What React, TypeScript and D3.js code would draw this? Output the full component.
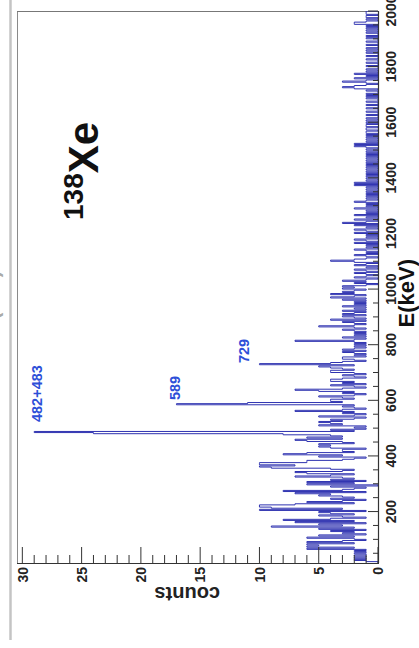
import React from 'react';
import * as d3 from 'd3';

const W = 419;
const H = 648;
const BIN = 4;

// [bin start energy (keV), counts] — non-zero bins
const lowBins: [number, number][] = [
  [20,1],[24,2],[28,1],[32,2],[36,1],[40,2],[44,1],[48,2],[52,1],[56,2],[60,1],[64,6],[68,2],[72,6],[76,5],[80,6],
  [84,2],[88,6],[92,3],[96,1],[100,2],[104,6],[108,2],[112,5],[116,1],[120,3],[124,2],[128,4],[132,1],
  [136,5],[140,2],[144,9],[148,3],[152,5],[156,1],[160,7],[164,2],[168,8],[172,4],[176,1],[180,3],
  [184,5],[188,2],[192,4],[196,5],[200,1],[204,10],[208,3],[212,9],[216,10],[220,10],[224,7],[228,2],
  [232,6],[236,3],[240,1],[244,4],[248,2],[252,3],[256,5],[260,4],[264,7],[268,1],[272,8],[276,3],
  [280,2],[284,1],[288,4],[296,6],[300,2],
];

const midLowBins: [number, number][] = [
  [304,6],[308,1],[312,4],[316,2],[320,3],[324,7],[328,4],[332,2],[336,6],[340,7],[344,3],[348,2],
  [352,4],[356,9],[360,10],[364,7],[368,10],[372,10],[376,6],[380,6],[384,3],[388,2],[392,1],[396,5],
  [400,3],[404,8],[408,6],[412,2],[416,3],[420,3],[424,1],[428,4],[432,5],[436,4],[440,5],[444,2],
  [448,3],[452,6],[456,7],[460,3],[464,6],[468,3],[472,4],[476,8],[480,24],[484,29],[488,2],[492,4],[496,1],
];

const midBins: [number, number][] = [
  [500,2],[504,1],[508,5],[512,3],[516,4],[520,5],[524,3],[528,4],[532,2],[536,1],[540,5],[544,2],
  [548,1],[552,3],[556,2],[560,7],[564,3],[568,1],[572,2],[576,3],[580,2],[584,17],[588,11],[592,3],
  [596,4],[600,4],[604,2],[608,3],[612,5],[616,2],[620,1],[624,3],[628,2],[632,5],[636,7],[640,3],
  [644,1],[648,2],[652,4],[656,1],[660,3],[664,2],[668,4],[672,4],[676,3],[680,1],[684,2],[688,3],
  [692,1],[696,2],[700,4],[704,4],[708,2],[712,3],[716,4],[720,5],[724,2],[728,10],[732,4],[736,3],
  [740,1],[744,2],[748,3],[752,3],[756,1],[760,2],[764,1],[768,2],[772,3],[776,1],[780,3],[784,2],
  [788,1],[792,2],[796,1],[800,2],[804,1],[808,2],[812,7],[816,2],[820,1],[824,3],[828,1],[832,2],
  [836,1],[840,2],[844,1],[848,2],[852,3],[856,1],[860,2],[864,5],[868,2],[872,1],[876,2],[880,3],
  [884,1],[888,4],[892,1],[896,2],[900,3],[904,1],[908,3],[912,2],[916,1],[920,3],[924,1],[928,2],
  [932,1],[936,3],[940,1],[944,2],[948,1],[952,2],[956,1],[960,3],[964,1],[968,4],[972,2],[976,1],
  [980,4],[984,2],[988,3],[992,2],[996,1],
];

const highBins: [number, number][] = [
  [1000,3],[1004,2],[1008,3],[1012,1],[1020,2],[1024,1],[1028,3],[1032,1],[1040,2],[1044,1],[1052,1],
  [1056,2],[1064,1],[1068,2],[1076,1],[1084,2],[1088,1],[1096,2],[1100,4],[1104,2],[1108,1],[1116,1],
  [1120,2],[1128,1],[1136,1],[1140,2],[1148,1],[1156,1],[1164,2],[1172,1],[1176,2],[1184,1],[1192,1],
  [1200,2],[1208,1],[1212,2],[1220,1],[1228,2],[1236,3],[1240,1],[1248,2],[1256,1],[1264,2],[1272,1],
  [1280,1],[1288,2],[1296,1],[1304,1],[1312,2],[1316,1],[1324,1],[1332,1],[1340,1],[1348,1],[1356,1],
  [1364,1],[1372,2],[1380,2],[1388,1],[1396,1],[1404,1],[1412,1],[1420,1],[1428,1],[1436,1],[1444,1],
  [1452,1],[1460,1],[1468,1],[1476,1],[1484,1],[1492,1],[1500,1],[1508,1],[1512,2],[1520,2],[1528,1],
  [1536,1],[1544,1],[1552,1],[1560,1],[1564,1],[1572,1],[1576,1],[1584,1],[1588,1],[1596,1],[1604,1],
  [1612,1],[1624,1],[1636,1],[1648,1],[1660,1],[1672,1],[1684,1],[1692,1],[1700,1],[1712,1],[1720,2],
  [1724,3],[1728,2],[1732,1],[1740,1],[1744,3],[1748,1],[1756,2],[1764,1],[1772,2],[1780,1],[1788,1],
  [1800,1],[1812,1],[1824,1],[1836,1],[1848,1],[1856,1],[1864,1],[1876,1],[1888,1],[1900,1],[1908,1],
  [1920,1],[1928,1],[1936,1],[1944,1],[1952,2],[1956,2],[1960,1],[1968,1],[1976,1],[1980,1],[1988,1],
  [1992,1],[1996,1],
];

const energyTicks = [200, 400, 600, 800, 1000, 1200, 1400, 1600, 1800, 2000];
const countTicks = [0, 5, 10, 15, 20, 25, 30];

const peakLabels = [
  { text: '482+483', e: 522, c: 28.3 },
  { text: '589', e: 601, c: 16.7 },
  { text: '729', e: 734, c: 10.9 },
];

const E_MIN = 15;
const E_MAX = 2000;
const C_MAX = 30.45;

const FONT = 'Liberation Sans, Arial, Helvetica, sans-serif';

export default function App() {
  const left = 17, right = 378, top = 11, bottom = 563;
  const yE = d3.scaleLinear().domain([E_MIN, E_MAX]).range([bottom, top]);
  const xC = d3.scaleLinear().domain([0, C_MAX]).range([right, left]);

  const counts = new Map<number, number>();
  [...lowBins, ...midLowBins, ...midBins, ...highBins].forEach(([e, c]) => counts.set(e, c));
  const pts: { e: number; c: number }[] = [{ e: 0, c: 0 }];
  for (let e = 0; e < E_MAX; e += BIN) {
    const c = counts.get(e) ?? 0;
    pts.push({ e, c });
    pts.push({ e: e + BIN, c });
  }
  pts.push({ e: E_MAX, c: 0 });
  const line = d3.line<{ e: number; c: number }>().x(d => xC(d.c)).y(d => yE(d.e));
  const path = line(pts) ?? '';

  const eMinor = d3.range(50, 2000, 50).filter(v => v % 200 !== 0 && v > E_MIN);
  const cMinor = d3.range(1, 31).filter(v => v % 5 !== 0);

  return (
    <svg width={W} height={H} style={{ position: 'absolute', left: 0, top: 0, background: '#fff' }}
      fontFamily={FONT}>
      <rect x={0} y={0} width={W} height={H} fill="#fff" />
      {/* outer page border */}
      <line x1={10.5} x2={10.5} y1={0} y2={640} stroke="#c4c4c4" strokeWidth={2.5} />
      <text transform={`translate(-1,295) rotate(-90)`} textAnchor="middle" fontSize={20} fontWeight="bold" fill="#aaa">(keV)</text>

      <defs>
        <clipPath id="plotclip">
          <rect x={left} y={top} width={right - left} height={bottom - top} />
        </clipPath>
      </defs>

      {/* frame */}
      <line x1={left + 0.5} x2={left + 0.5} y1={top} y2={bottom} stroke="#8a8a8a" strokeWidth={1} />
      <line x1={left} x2={right} y1={top + 0.5} y2={top + 0.5} stroke="#777" strokeWidth={1} />

      {/* histogram */}
      <g clipPath="url(#plotclip)">
        <path d={path} fill="none" stroke="#2e32b0" strokeWidth={1} />
      </g>

      {/* energy axis (right) */}
      <line x1={right + 0.5} x2={right + 0.5} y1={top} y2={bottom} stroke="#333" strokeWidth={1.2} />
      {eMinor.map(v => (
        <line key={'em' + v} x1={right} x2={right - 5} y1={yE(v)} y2={yE(v)} stroke="#333" strokeWidth={1} />
      ))}
      {energyTicks.map(v => (
        <line key={'eM' + v} x1={right} x2={right - 10} y1={yE(v)} y2={yE(v)} stroke="#333" strokeWidth={1} />
      ))}
      {energyTicks.map(v => (
        <text key={'et' + v} transform={`translate(396,${yE(v)}) rotate(-90)`} textAnchor="middle"
          fontSize={14} fontWeight="bold" fill="#222">{v}</text>
      ))}
      <text transform={`translate(414,${yE(985)}) rotate(-90)`} textAnchor="middle" fontSize={22}
        fontWeight="bold" fill="#111">E(keV)</text>

      {/* counts axis (bottom) */}
      <line x1={left} x2={right + 1} y1={bottom + 0.5} y2={bottom + 0.5} stroke="#333" strokeWidth={1.2} />
      {cMinor.map(v => (
        <line key={'cm' + v} x1={xC(v)} x2={xC(v)} y1={bottom} y2={bottom - 8} stroke="#333" strokeWidth={1} />
      ))}
      {countTicks.map(v => (
        <line key={'cM' + v} x1={xC(v)} x2={xC(v)} y1={bottom} y2={bottom - 16} stroke="#333" strokeWidth={1} />
      ))}
      {countTicks.map(v => (
        <text key={'ct' + v} transform={`translate(${xC(v) + 5.2},567) rotate(-90)`} textAnchor="end"
          fontSize={14} fontWeight="bold" fill="#222">{v}</text>
      ))}
      <text transform={`translate(220,587) rotate(180)`} textAnchor="start" fontSize={20}
        fontWeight="bold" fill="#222">counts</text>

      {/* peak labels */}
      {peakLabels.map(p => (
        <text key={p.text} transform={`translate(${xC(p.c)},${yE(p.e)}) rotate(-90)`} textAnchor="start"
          fontSize={14.5} fontWeight="bold" fill="#2d4fd8">{p.text}</text>
      ))}

      {/* nucleus label */}
      <text transform={`translate(98,220) rotate(-90)`} fontWeight="bold" fill="#111">
        <tspan fontSize={28} dy={-15}>138</tspan>
        <tspan fontSize={42} dy={15}>Xe</tspan>
      </text>
    </svg>
  );
}
